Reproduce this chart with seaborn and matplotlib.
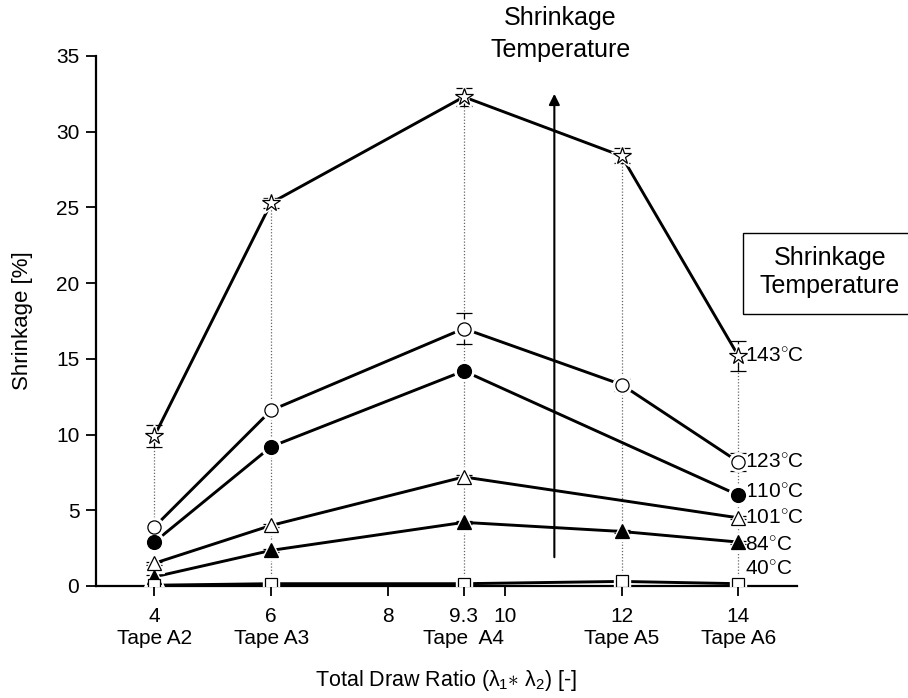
import numpy as np
import pandas as pd
import matplotlib
matplotlib.use("Agg")
import matplotlib.pyplot as plt
from matplotlib.patches import Rectangle
import seaborn as sns

# ---------------- data ----------------
draw_ratio = [4, 6, 9.3, 12, 14]
draw_ratio_4pt = [4, 6, 9.3, 14]
tick_pos = [4, 6, 8, 9.3, 10, 12, 14]
tick_labels = ["4", "6", "8", "9.3", "10", "12", "14"]
tape_pos = [4, 6, 9.3, 12, 14]
tape_labels = ["Tape A2", "Tape A3", "Tape  A4", "Tape A5", "Tape A6"]

s143 = [9.9, 25.3, 32.3, 28.4, 15.2]
e143 = [0.7, 0.35, 0.6, 0.5, 1.0]
s123 = [3.9, 11.6, 17.0, 13.3, 8.2]
e123 = [0.2, 0.15, 1.05, 0.4, 0.6]
s110 = [2.9, 9.2, 14.2, 6.0]
e110 = [0.1, 0.25, 0.1, 0.1]
s101 = [1.5, 4.0, 7.2, 4.5]
e101 = [0.1, 0.1, 0.1, 0.1]
s84 = [0.6, 2.35, 4.2, 3.6, 2.9]
e84 = [0.1, 0.1, 0.1, 0.1, 0.1]
s40 = [0.05, 0.15, 0.15, 0.3, 0.15]
e40 = [0.05, 0.05, 0.05, 0.05, 0.05]

temp_labels = ["143", "123", "110", "101", "84", "40"]
label_y = [15.2, 8.2, 6.2, 4.5, 2.7, 1.1]

# ---------------- style ----------------
sns.set_theme(style="ticks")
plt.rcParams["font.family"] = ["Liberation Sans", "DejaVu Sans"]
plt.rcParams["mathtext.fontset"] = "custom"
plt.rcParams["mathtext.rm"] = "Liberation Sans"
plt.rcParams["mathtext.it"] = "Liberation Sans"
plt.rcParams["mathtext.bf"] = "Liberation Sans:bold"
plt.rcParams["text.color"] = "black"
plt.rcParams["axes.labelcolor"] = "black"
plt.rcParams["xtick.color"] = "black"
plt.rcParams["ytick.color"] = "black"
plt.rcParams["axes.edgecolor"] = "black"

fig = plt.figure(figsize=(9.08, 6.98), dpi=100)
ax = fig.add_axes([0.1057, 0.1605, 0.7717, 0.7593])

series = [
    (draw_ratio, s143, e143, dict(marker="*", ms=13, mfc="white")),
    (draw_ratio, s123, e123, dict(marker="o", ms=9.5, mfc="white")),
    (draw_ratio_4pt, s110, e110, dict(marker="o", ms=10, mfc="black")),
    (draw_ratio_4pt, s101, e101, dict(marker="^", ms=10, mfc="white")),
    (draw_ratio, s84, e84, dict(marker="^", ms=10, mfc="black")),
    (draw_ratio, s40, e40, dict(marker="s", ms=8, mfc="white")),
]

# dotted guide lines up to the 143 C series
ax.vlines(draw_ratio, 0, s143, colors="0.4", linestyles=(0, (1, 1.5)), lw=0.9, zorder=1)

rows = []
for name, (xs, ys, es, st) in zip(temp_labels, series):
    for xv, yv in zip(xs, ys):
        rows.append(dict(ratio=xv, shrink=yv, temp=name))
df = pd.DataFrame(rows)

sns.lineplot(data=df, x="ratio", y="shrink", hue="temp", palette=["black"] * 6,
             hue_order=temp_labels, lw=2.1, legend=False, ax=ax, zorder=2,
             sort=True, estimator=None)

for xs, ys, es, st in series:
    ax.errorbar(xs, ys, yerr=es, fmt="none", ecolor="black", elinewidth=0.9,
                capsize=6, capthick=0.9, zorder=3)
    # white halo for the gap between line and marker
    ax.plot(xs, ys, ls="none", marker=st["marker"], ms=st["ms"] + 4,
            mfc="white", mec="white", zorder=4)
    ax.plot(xs, ys, ls="none", marker=st["marker"], ms=st["ms"],
            mfc=st["mfc"], mec="black", mew=0.9, zorder=5)

for t, yv in zip(temp_labels, label_y):
    ax.text(14.12, yv, t + r"$^{\circ}$C", fontsize=15, ha="left", va="center",
            clip_on=False)

# arrow
ax.annotate("", xy=(10.85, 32.5), xytext=(10.85, 1.9),
            arrowprops=dict(arrowstyle="-|>", lw=1.5, color="black",
                            mutation_scale=16, shrinkA=0, shrinkB=0))
ax.text(10.95, 36.45, "Shrinkage\nTemperature", fontsize=18, ha="center",
        va="center", clip_on=False, linespacing=1.38)

# boxed text on the right
fig.patches.append(Rectangle((743 / 908, 1 - 314 / 698), 0.19, 81 / 698,
                             transform=fig.transFigure, fill=False,
                             ec="black", lw=1.0))
fig.text(830 / 908, 1 - 272 / 698, "Shrinkage\nTemperature", fontsize=18,
         ha="center", va="center", linespacing=1.25)

ax.set_xlim(3, 15)
ax.set_ylim(0, 35)
ax.set_xticks(tick_pos)
ax.set_xticklabels(tick_labels)
ax.set_yticks([0, 5, 10, 15, 20, 25, 30, 35])
ax.tick_params(axis="y", labelsize=15, direction="out", length=7, width=1.3, pad=5,
               colors="black")
ax.tick_params(axis="x", labelsize=15, direction="out", length=7, width=1.3, pad=8,
               colors="black")

for xp, tl in zip(tape_pos, tape_labels):
    ax.text(xp, -0.1, tl, transform=ax.get_xaxis_transform(), fontsize=15,
            ha="center", va="center")

ax.set_xlabel(r"Total Draw Ratio ($\lambda_1$$\ast$ $\lambda_2$) [-]", fontsize=15.5)
ax.xaxis.set_label_coords(0.5, -0.155)
ax.set_ylabel("Shrinkage [%]", fontsize=16)
ax.yaxis.set_label_coords(-0.09, 0.5)

for side in ["top", "right"]:
    ax.spines[side].set_visible(False)
for side in ["left", "bottom"]:
    ax.spines[side].set_linewidth(1.6)
    ax.spines[side].set_color("black")
ax.set_facecolor("white")

fig.savefig("out.png", dpi=100, facecolor="white")
